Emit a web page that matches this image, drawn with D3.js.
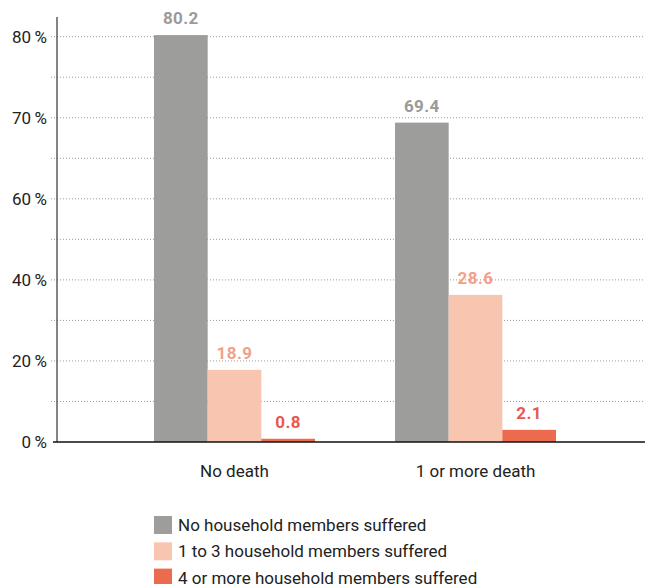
<!DOCTYPE html>
<html>
<head>
<meta charset="utf-8">
<script src="https://cdn.jsdelivr.net/npm/d3@7"></script>
<style>
  html, body { margin: 0; padding: 0; background: #fff; }
  svg { display: block; font-family: Roboto, "Liberation Sans", sans-serif; }
</style>
</head>
<body>
<svg id="chart" width="645" height="584"></svg>
<script>
// ---- data ----
const categories = ["No death", "1 or more death"];
const series = ["No household members suffered", "1 to 3 household members suffered", "4 or more household members suffered"];
// printed value labels
const labelNoDeath = [80.2, 18.9, 0.8];
const labelDeath = [69.4, 28.6, 2.1];
const barNoDeath = [80.2, 17.8, 0.8];
const barDeath = [69.4, 36.3, 3.0];
// y axis
const tickValues = [0, 20, 40, 60, 70, 80];
const gridValues = [0, 10, 20, 30, 40, 50, 60, 65, 70, 75, 80];

const barColors = ["#9d9d9b", "#f8c6b0", "#ec6b4e"];
const labelColors = ["#9a9a9a", "#f4a088", "#e8594c"];

const rows = [
  { cat: categories[0], bars: barNoDeath, labels: labelNoDeath },
  { cat: categories[1], bars: barDeath, labels: labelDeath }
];

const svg = d3.select("#chart");

const y0 = 442, yTop = 36.7;
const step = (y0 - yTop) / (tickValues.length - 1);
const y = d3.scaleLinear()
  .domain(tickValues)
  .range(tickValues.map((d, i) => y0 - i * step));

const x = d3.scaleBand().domain(categories).range([57, 653]).paddingInner(0.332).paddingOuter(0.4025);
const xs = d3.scaleBand().domain(series).range([0, x.bandwidth()]);

// gridlines
svg.append("g").selectAll("line").data(gridValues.filter(d => d !== 0)).join("line")
  .attr("x1", 51).attr("x2", 645)
  .attr("y1", d => y(d)).attr("y2", d => y(d))
  .attr("stroke", "#9a9a9a").attr("stroke-width", 1)
  .attr("stroke-dasharray", "1,2");

// y axis labels
const yAxis = d3.axisLeft(y).tickValues(tickValues).tickSize(0).tickPadding(0)
  .tickFormat(d => d + "\u2009%");
const ga = svg.append("g").attr("transform", "translate(47,0)").call(yAxis);
ga.select(".domain").remove();
ga.selectAll("text").attr("font-size", 17).attr("fill", "#222")
  .attr("font-family", "Roboto, 'Liberation Sans', sans-serif");

// bars
const groups = svg.append("g").selectAll("g").data(rows).join("g")
  .attr("transform", d => `translate(${x(d.cat)},0)`);

groups.selectAll("rect").data(d => d.bars.map((v, i) => ({ v, i }))).join("rect")
  .attr("x", d => xs(series[d.i]))
  .attr("width", xs.bandwidth())
  .attr("y", d => y(d.v))
  .attr("height", d => y(0) - y(d.v))
  .attr("fill", d => barColors[d.i]);

groups.selectAll("text").data(d => d.bars.map((v, i) => ({ v, i, lab: d.labels[i] }))).join("text")
  .attr("x", d => xs(series[d.i]) + xs.bandwidth() / 2)
  .attr("y", d => y(d.v) - 11)
  .attr("text-anchor", "middle")
  .attr("font-size", 17).attr("font-weight", "bold")
  .attr("letter-spacing", "0.4px")
  .attr("fill", d => labelColors[d.i])
  .text(d => d.lab.toFixed(1));

// y axis line and baseline
svg.append("line").attr("x1", 57).attr("x2", 57).attr("y1", 17).attr("y2", y0)
  .attr("stroke", "#333").attr("stroke-width", 1.2);
svg.append("line").attr("x1", 53).attr("x2", 645).attr("y1", y0).attr("y2", y0)
  .attr("stroke", "#111").attr("stroke-width", 1.5);

// category labels
svg.append("g").selectAll("text").data(categories).join("text")
  .attr("x", d => x(d) + x.bandwidth() / 2)
  .attr("y", 477)
  .attr("text-anchor", "middle")
  .attr("font-size", 17).attr("fill", "#222")
  .text(d => d);

// legend
const lg = svg.append("g").selectAll("g").data(series).join("g")
  .attr("transform", (d, i) => `translate(154,${516 + i * 26.3})`);
lg.append("rect").attr("width", 18).attr("height", 18).attr("fill", (d, i) => barColors[i]);
lg.append("text").attr("x", 24).attr("y", 15).attr("font-size", 17).attr("fill", "#222").text(d => d);
</script>
</body>
</html>
